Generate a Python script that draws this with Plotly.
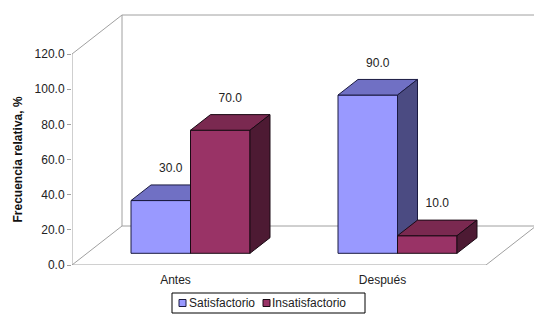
import plotly.graph_objects as go

# ---------------- data ----------------
categories = ["Antes", "Después"]
series_names = ["Satisfactorio", "Insatisfactorio"]
satisfactorio = [30.0, 90.0]
insatisfactorio = [70.0, 10.0]
y_ticks = [0, 20, 40, 60, 80, 100, 120]
y_title = "Frecuencia relativa, %"

series_values = [satisfactorio, insatisfactorio]
face_colors = [
    {"front": "#9999FF", "top": "#7070C4", "side": "#4B4B82", "line": "#1A1A40"},
    {"front": "#993366", "top": "#7A2950", "side": "#4D1A33", "line": "#1A0A14"},
]

# ---------------- 3D projection geometry ----------------
PX_PER_CAT = 207.0
PX_PER_VAL = 211.0 / 120.0
DEPTH_DX = 50.0 / PX_PER_CAT          # full floor depth, in category units
DEPTH_DY = 39.0 / PX_PER_VAL          # full floor depth, in value units
BAR_W = 59.5 / PX_PER_CAT
D_FRONT, D_BACK = 0.3, 0.7
Y_MAX = max(y_ticks)
X_MIN, X_MAX = -0.5, len(categories) - 0.5

W, H = 534, 326
ML, MR, MT, MB = 72, 0, 10, 61
plot_w = W - ML - MR
plot_h = H - MT - MB


def proj(x, y, d):
    return x + DEPTH_DX * d, y + DEPTH_DY * d


def poly(points):
    xs, ys = [], []
    for (x, y, d) in points:
        px, py = proj(x, y, d)
        xs.append(px)
        ys.append(py)
    xs.append(xs[0])
    ys.append(ys[0])
    return xs, ys


def paper_x(px):
    return (px - ML) / plot_w


def paper_y(py):
    return (H - MB - py) / plot_h


fig = go.Figure()

GRAY = "#A0A0A0"


def wall_line(p0, p1):
    x0, y0 = proj(*p0)
    x1, y1 = proj(*p1)
    fig.add_shape(type="line", xref="x", yref="y", x0=x0, y0=y0, x1=x1, y1=y1,
                  line=dict(color=GRAY, width=1), layer="below")


# walls / floor outline
wall_line((X_MIN, 0, 0), (X_MIN, Y_MAX, 0))          # front-left vertical
wall_line((X_MIN, 0, 1), (X_MIN, Y_MAX, 1))          # back-left vertical
wall_line((X_MIN, Y_MAX, 1), (X_MAX + 0.5, Y_MAX, 1))  # back wall top
wall_line((X_MIN, 0, 1), (X_MAX + 0.5, 0, 1))        # floor back edge
wall_line((X_MIN, 0, 0), (X_MAX, 0, 0))              # floor front edge
wall_line((X_MIN, 0, 0), (X_MIN, 0, 1))              # left floor diagonal
wall_line((X_MIN, Y_MAX, 0), (X_MIN, Y_MAX, 1))      # left top diagonal
wall_line((X_MAX, 0, 0), (X_MAX, 0, 1))              # right floor diagonal
# category tick marks on the floor front edge
for k in range(len(categories) + 1):
    xb = X_MIN + k
    fig.add_shape(type="line", xref="x", yref="y", x0=xb, x1=xb,
                  y0=0, y1=-3.0 / PX_PER_VAL,
                  line=dict(color=GRAY, width=1), layer="below")

# bars (front, top, side faces)
for i, cat in enumerate(categories):
    for j, vals in enumerate(series_values):
        v = vals[i]
        c = face_colors[j]
        x0 = i - BAR_W + j * BAR_W
        x1 = x0 + BAR_W
        faces = [
            ("front", [(x0, 0, D_FRONT), (x1, 0, D_FRONT), (x1, v, D_FRONT), (x0, v, D_FRONT)]),
            ("top", [(x0, v, D_FRONT), (x1, v, D_FRONT), (x1, v, D_BACK), (x0, v, D_BACK)]),
            ("side", [(x1, 0, D_FRONT), (x1, 0, D_BACK), (x1, v, D_BACK), (x1, v, D_FRONT)]),
        ]
        for name, pts in faces:
            xs, ys = poly(pts)
            fig.add_trace(go.Scatter(
                x=xs, y=ys, mode="lines", fill="toself",
                fillcolor=c[name], line=dict(color=c["line"], width=1),
                name=series_names[j], showlegend=False, hoverinfo="skip"))

# data labels
lab_x, lab_y, lab_t = [], [], []
for i in range(len(categories)):
    for j, vals in enumerate(series_values):
        v = vals[i]
        xc = i - BAR_W + j * BAR_W + BAR_W / 2
        px, py = proj(xc, v, 0.5)
        lab_x.append(px)
        lab_y.append(py + 13.5)
        lab_t.append(f"{v:.1f}")
fig.add_trace(go.Scatter(x=lab_x, y=lab_y, text=lab_t, mode="text",
                         textposition="middle center",
                         textfont=dict(size=12, color="#222222"),
                         showlegend=False, hoverinfo="skip"))

# legend (boxed, compact, Excel style)
shapes_legend = [dict(type="rect", xref="paper", yref="paper",
                      x0=paper_x(172), x1=paper_x(365),
                      y0=paper_y(313), y1=paper_y(293),
                      line=dict(color="#000000", width=1), fillcolor="white",
                      layer="above")]
annotations = []
legend_sq_x = [179, 263]
legend_txt_x = [187, 270]
for j, name in enumerate(series_names):
    shapes_legend.append(dict(type="rect", xref="paper", yref="paper",
                              x0=paper_x(legend_sq_x[j]), x1=paper_x(legend_sq_x[j] + 7),
                              y0=paper_y(306.5), y1=paper_y(299.5),
                              line=dict(color=face_colors[j]["line"], width=1),
                              fillcolor=face_colors[j]["front"], layer="above"))
    annotations.append(dict(text=name, xref="paper", yref="paper",
                            x=paper_x(legend_txt_x[j]), y=paper_y(303),
                            xanchor="left", yanchor="middle", showarrow=False,
                            font=dict(size=12, color="#222222")))
for s in shapes_legend:
    fig.add_shape(**s)

annotations.append(dict(text=f"<b>{y_title}</b>", xref="paper", yref="paper",
                        x=paper_x(17), y=paper_y(159.5),
                        xanchor="center", yanchor="middle", textangle=-90,
                        showarrow=False, font=dict(size=12, color="#111111")))

fig.update_layout(
    width=W, height=H,
    margin=dict(l=ML, r=MR, t=MT, b=MB),
    paper_bgcolor="white", plot_bgcolor="white",
    font=dict(family="Liberation Sans, Arial, sans-serif", size=12, color="#222222"),
    showlegend=False,
    xaxis=dict(range=[X_MIN, X_MIN + plot_w / PX_PER_CAT],
               tickmode="array", tickvals=list(range(len(categories))),
               ticktext=categories, showgrid=False, zeroline=False,
               showline=False, ticks="", ticklabelstandoff=6, fixedrange=True),
    yaxis=dict(range=[0, plot_h / PX_PER_VAL],
               tickmode="array", tickvals=y_ticks,
               ticktext=[f"{t:.1f}" for t in y_ticks],
               showgrid=False, zeroline=False, showline=False,
               ticks="outside", ticklen=4, tickcolor=GRAY, tickwidth=1,
               fixedrange=True),
    annotations=annotations,
)

fig.write_html("out.html")
